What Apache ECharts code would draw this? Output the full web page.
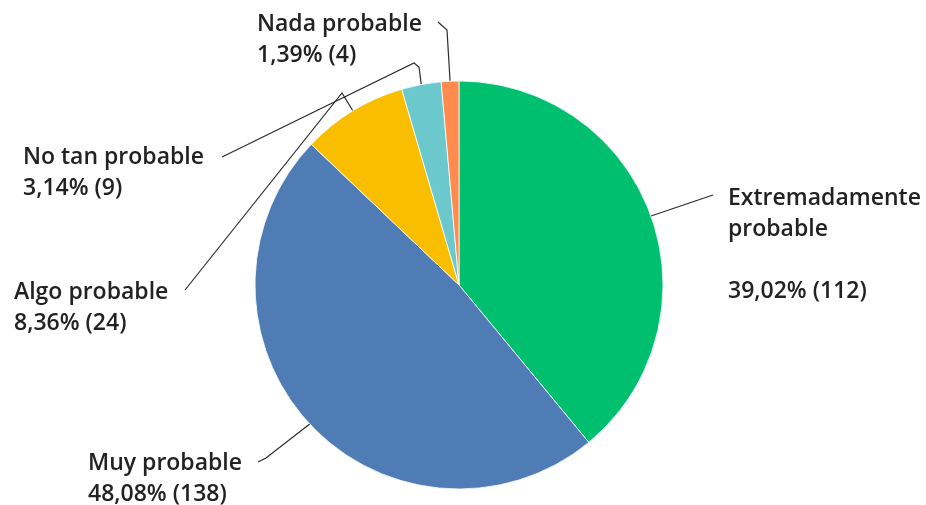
<!DOCTYPE html>
<html>
<head>
<meta charset="utf-8">
<style>
  html, body { margin: 0; padding: 0; background: #fff; }
  #chart { width: 926px; height: 505px; }
</style>
<script src="https://cdn.jsdelivr.net/npm/echarts@6/dist/echarts.min.js"></script>
</head>
<body>
<div id="chart"></div>
<script>
// Survey answers, clockwise from 12 o'clock
const categories = ['Extremadamente probable', 'Muy probable', 'Algo probable', 'No tan probable', 'Nada probable'];
const counts = [112, 138, 24, 9, 4];
const sliceColors = ['#00BF6F', '#507CB6', '#F9BE00', '#6BC8CD', '#FF8B4F'];

const total = counts.reduce((a, b) => a + b, 0);

// Where each label block sits (top-left) and the bends of its leader line
const labelPlacement = [
  { x: 728, y: 183, bends: [[713, 195]] },
  { x: 88, y: 448, bends: [[266, 458], [258, 462]] },
  { x: 14, y: 277, bends: [[342, 93], [185, 290]] },
  { x: 23, y: 142, bends: [[419, 67], [414, 63], [222, 157]] },
  { x: 257, y: 9, bends: [[447, 30], [438, 22]] }
];

function pct(v) {
  return (v / total * 100).toFixed(2).replace('.', ',') + '%';
}

const chart = echarts.init(document.getElementById('chart'), null, { renderer: 'canvas' });

chart.setOption({
  animation: false,
  series: [{
    type: 'pie',
    center: [459, 285],
    radius: 204,
    startAngle: 90,
    clockwise: true,
    itemStyle: { borderColor: '#ffffff', borderWidth: 0.8 },
    data: categories.map((name, i) => ({
      name: name,
      value: counts[i],
      itemStyle: { color: sliceColors[i] }
    })),
    label: {
      show: true,
      position: 'outside',
      color: '#222222',
      fontFamily: 'Open Sans',
      fontWeight: 600,
      fontSize: 23,
      lineHeight: 31,
      formatter: function (p) {
        const name = p.name.length > 16 ? p.name.replace(' ', '\n') + '\n' : p.name;
        return name + '\n' + pct(p.value) + ' (' + p.value + ')';
      }
    },
    labelLine: {
      show: true,
      lineStyle: { color: '#2b2b2b', width: 1.2 }
    },
    labelLayout: function (params) {
      const cfg = labelPlacement[params.dataIndex];
      const start = params.labelLinePoints ? params.labelLinePoints[0] : null;
      const out = {
        x: cfg.x,
        y: cfg.y,
        align: 'left',
        verticalAlign: 'top'
      };
      if (start) {
        out.labelLinePoints = [start].concat(cfg.bends);
      }
      return out;
    }
  }]
});
</script>
</body>
</html>
